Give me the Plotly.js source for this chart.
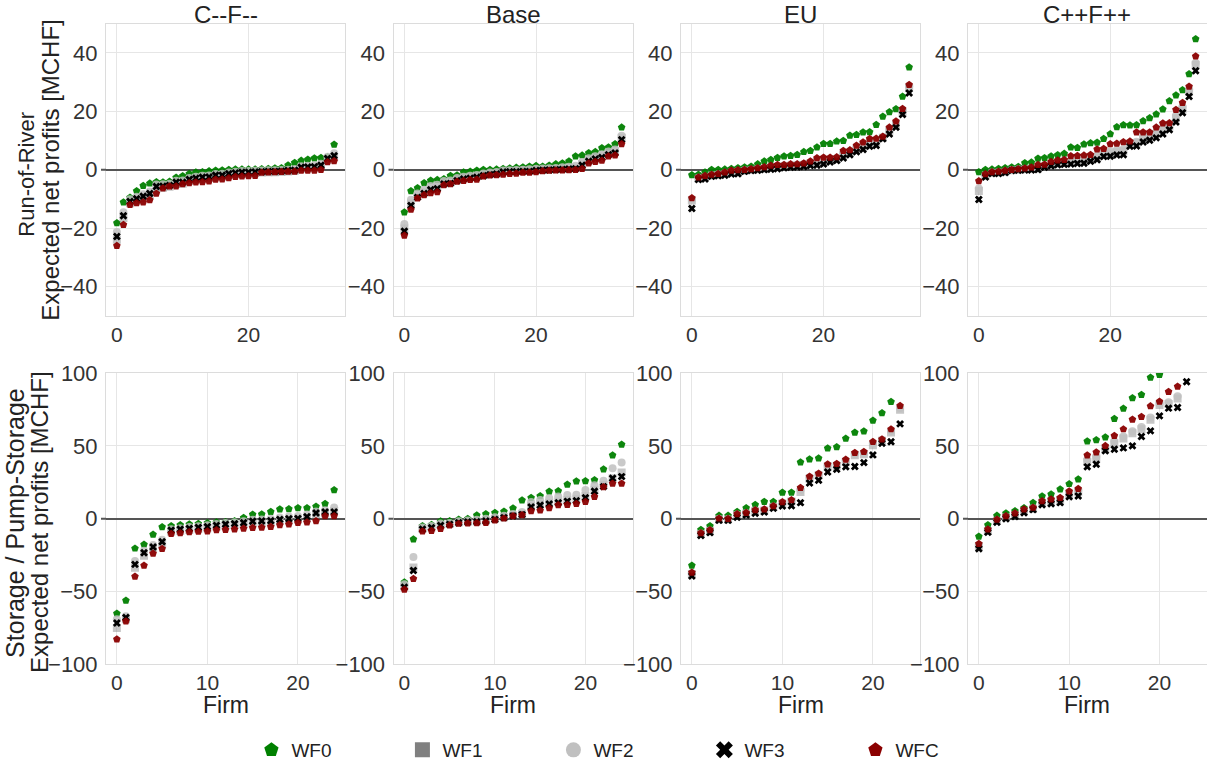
<!DOCTYPE html>
<html>
<head>
<meta charset="utf-8">
<script src="https://cdn.plot.ly/plotly-3.0.1.min.js"></script>
<style>
  html, body { margin: 0; padding: 0; background: #fff; }
  #chart { width: 1207px; height: 769px; }
</style>
</head>
<body>
<div id="chart"></div>
<script>
// Scenario names (columns) and weighting-function series
const scenarios = ["C--F--", "Base", "EU", "C++F++"];
const seriesNames = ["WF0", "WF1", "WF2", "WF3", "WFC"];
const firmIds = [0,1,2,3,4,5,6,7,8,9,10,11,12,13,14,15,16,17,18,19,20,21,22,23,24,25,26,27,28,29,30,31,32,33];

// ---- Run-of-River, expected net profits [MCHF] ----
const ror_lo_wf0 = [-18.3,-11.2,-9.5,-7.3,-5.5,-4.7,-4.2,-4.3,-4.1,-2.7,-2.2,-1.4,-0.9,-0.8,-0.5,-0.3,-0.2,0.0,0.1,0.1,0.1,0.1,0.2,0.3,0.5,0.6,1.5,2.4,3.1,3.5,3.9,4.1,4.3,8.6];
const ror_lo_wf1 = [-24.0,-16.6,-11.5,-10.6,-9.8,-8.9,-6.4,-6.2,-5.9,-4.9,-4.8,-3.9,-3.4,-3.1,-2.9,-2.4,-2.3,-1.8,-1.5,-1.3,-1.3,-1.1,-1.0,-0.9,-0.9,-0.8,-0.6,-0.5,0.4,0.5,0.6,1.0,3.3,4.3];
const ror_lo_wf2 = [-21.4,-14.6,-10.1,-9.3,-8.4,-7.5,-5.1,-5.0,-4.8,-3.8,-3.7,-2.9,-2.4,-2.1,-2.0,-1.5,-1.4,-1.0,-0.7,-0.5,-0.5,-0.4,-0.3,-0.2,-0.2,-0.1,0.0,0.2,1.2,1.3,1.5,2.0,4.4,5.6];
const ror_lo_wf3 = [-22.9,-15.8,-10.9,-10.0,-9.1,-8.2,-5.8,-5.7,-5.4,-4.3,-4.3,-3.4,-2.9,-2.6,-2.5,-1.9,-1.9,-1.4,-1.1,-0.9,-0.9,-0.8,-0.7,-0.6,-0.6,-0.5,-0.3,-0.2,0.8,0.9,1.0,1.5,3.8,4.8];
const ror_lo_wfc = [-26.1,-18.9,-12.0,-11.4,-11.2,-10.4,-8.2,-6.4,-5.7,-5.7,-4.9,-4.6,-4.3,-4.2,-4.0,-3.4,-3.3,-2.9,-2.4,-2.3,-2.2,-2.1,-1.0,-0.9,-0.8,-0.7,-0.6,-0.6,-0.3,-0.3,-0.3,0.0,2.6,3.0];

const ror_base_wf0 = [-14.6,-7.3,-6.3,-4.6,-3.7,-3.5,-3.2,-2.1,-1.9,-0.9,-0.6,-0.3,0.0,0.0,0.1,0.3,0.5,0.7,0.8,1.1,1.3,1.1,1.4,1.9,2.2,2.9,4.6,4.9,5.7,6.1,7.4,7.7,8.8,14.5];
const ror_base_wf1 = [-20.2,-11.6,-9.0,-7.7,-6.4,-6.0,-4.5,-4.3,-3.4,-2.9,-2.6,-2.3,-1.8,-1.4,-1.2,-0.6,-0.5,-0.4,-0.3,-0.3,-0.1,0.0,0.1,0.2,0.3,0.5,0.7,1.9,3.3,4.1,4.7,5.6,6.3,10.9];
const ror_base_wf2 = [-18.6,-10.3,-8.2,-6.9,-5.6,-5.2,-3.9,-3.7,-2.9,-2.4,-2.1,-1.8,-1.3,-1.0,-0.8,-0.3,-0.2,-0.1,0.0,0.1,0.3,0.4,0.5,0.6,0.8,1.0,1.3,2.6,3.9,4.6,5.3,6.2,6.9,11.6];
const ror_base_wf3 = [-21.1,-12.3,-9.5,-8.2,-6.9,-6.5,-4.9,-4.7,-3.8,-3.2,-2.9,-2.6,-2.1,-1.7,-1.5,-0.8,-0.7,-0.7,-0.6,-0.6,-0.3,-0.2,-0.1,0.0,0.1,0.2,0.3,1.5,2.9,3.7,4.2,5.1,5.7,10.3];
const ror_base_wfc = [-22.6,-13.7,-9.8,-8.7,-8.0,-7.7,-5.3,-4.9,-4.1,-3.8,-3.5,-3.4,-2.3,-1.9,-1.8,-1.7,-1.4,-1.3,-1.0,-1.0,-0.8,-0.5,-0.3,-0.2,-0.2,-0.1,0.0,0.3,2.2,2.7,3.1,4.6,4.9,8.8];

const ror_eu_wf0 = [-1.8,-1.7,-0.9,0.0,0.0,0.1,0.3,0.6,0.8,1.1,1.9,2.9,3.4,4.1,4.6,4.8,5.1,6.1,6.5,7.7,8.9,8.9,9.7,9.9,11.7,12.0,12.8,12.9,15.4,18.2,19.8,20.8,25.1,35.1];
const ror_eu_wf1 = [-10.6,-3.0,-2.6,-2.0,-1.8,-1.5,-1.0,-0.9,-0.4,-0.1,0.1,0.3,0.6,0.8,1.1,1.3,1.4,1.6,2.0,2.5,2.9,3.3,3.6,5.0,5.8,7.0,7.8,9.0,9.3,10.9,13.3,15.4,19.8,28.0];
const ror_eu_wf2 = [-10.2,-2.8,-2.4,-1.9,-1.6,-1.2,-0.7,-0.5,-0.2,0.0,0.3,0.6,1.0,1.2,1.4,1.6,1.7,1.9,2.4,3.2,3.5,3.7,3.9,5.8,6.3,7.6,8.6,9.8,10.0,11.1,13.9,16.0,20.4,28.6];
const ror_eu_wf3 = [-13.3,-3.4,-3.2,-2.3,-2.1,-1.9,-1.5,-1.4,-0.6,-0.3,-0.2,0.0,0.1,0.3,0.6,0.8,0.9,1.1,1.4,1.5,1.9,2.6,3.1,4.0,5.1,6.1,6.9,8.0,8.3,10.6,12.2,14.5,18.9,26.3];
const ror_eu_wfc = [-9.7,-2.6,-2.1,-1.7,-1.4,-0.9,-0.3,-0.1,0.0,0.2,0.6,0.9,1.4,1.7,1.7,1.9,1.9,2.2,2.9,4.0,4.2,4.2,4.3,6.5,6.7,8.3,9.4,10.6,10.7,11.4,14.5,16.6,20.9,29.1];

const ror_hi_wf0 = [-0.8,0.0,0.1,0.3,0.6,0.8,1.0,2.3,2.5,3.8,4.0,4.6,5.0,5.5,7.7,7.5,8.7,9.1,9.3,10.6,12.2,14.6,15.3,15.2,15.3,16.7,17.7,19.0,20.7,23.5,25.5,27.3,32.8,44.8];
const ror_hi_wf1 = [-7.3,-2.1,-1.1,-1.0,-0.7,-0.2,0.0,0.1,0.2,0.5,1.1,1.7,2.1,2.3,2.6,2.8,3.0,3.6,4.2,5.3,5.5,6.0,6.3,8.9,9.1,10.5,11.2,12.2,13.5,14.8,17.6,20.6,26.6,36.0];
const ror_hi_wf2 = [-6.5,-1.9,-1.0,-0.9,-0.6,-0.1,0.1,0.2,0.4,0.8,1.3,2.0,2.4,2.6,3.0,3.2,3.4,4.0,4.8,5.9,6.2,6.7,7.0,9.3,9.6,11.0,11.8,12.9,14.3,15.4,18.5,21.6,27.5,36.6];
const ror_hi_wf3 = [-10.2,-2.5,-1.3,-1.3,-1.0,-0.3,-0.2,-0.1,-0.1,0.0,0.8,1.3,1.7,1.8,1.9,2.1,2.2,2.9,3.4,4.5,4.6,5.0,5.1,8.0,8.1,9.5,10.1,10.9,12.2,13.7,16.3,19.5,25.1,33.9];
const ror_hi_wfc = [-3.9,-1.5,-0.8,-0.6,-0.3,0.0,0.2,0.5,0.8,1.7,1.8,2.7,3.2,3.4,4.7,4.8,4.9,5.1,7.0,7.2,8.8,9.0,9.5,9.7,12.8,12.8,12.8,14.5,15.9,16.0,20.5,22.9,28.5,38.9];

// ---- Storage / Pump-Storage, expected net profits [MCHF] (null = above 100) ----
const sto_lo_wf0 = [-65.1,-56.2,-20.4,-17.7,-10.8,-5.7,-5.0,-4.4,-3.9,-3.4,-3.0,-2.5,-2.3,-1.6,0.7,2.8,3.0,4.8,6.4,6.7,7.3,7.3,8.3,10.3,19.7];
const sto_lo_wf1 = [-75.0,-69.0,-33.7,-25.5,-20.5,-17.5,-9.0,-8.4,-7.8,-7.0,-6.5,-5.6,-4.9,-4.4,-3.9,-2.9,-2.6,-2.3,-1.5,-1.0,-0.6,0.5,2.8,3.5,5.3];
const sto_lo_wf2 = [-69.0,-67.0,-29.0,-22.0,-18.0,-14.5,-7.2,-6.5,-5.8,-5.2,-4.6,-3.7,-3.0,-2.5,-1.8,-0.8,-0.5,0.0,0.8,1.5,1.9,2.9,4.9,5.8,7.6];
const sto_lo_wf3 = [-71.6,-67.9,-31.4,-23.4,-19.5,-15.8,-8.0,-7.3,-6.7,-6.0,-5.5,-4.6,-3.9,-3.4,-2.8,-1.8,-1.6,-1.4,-0.5,0.0,0.2,1.4,3.9,4.6,4.6];
const sto_lo_wfc = [-82.8,-70.4,-39.7,-32.1,-23.9,-20.6,-10.3,-9.9,-9.2,-8.9,-8.7,-7.8,-7.6,-7.3,-6.7,-6.2,-6.0,-5.5,-4.4,-3.9,-2.8,-2.5,-1.6,1.8,1.8];

const sto_base_wf0 = [-43.6,-14.2,-5.0,-4.1,-1.8,-1.6,-0.5,0.0,2.3,3.2,4.1,5.0,7.1,12.6,14.4,15.6,18.6,19.0,23.4,25.7,25.9,26.6,33.9,43.6,50.9];
const sto_base_wf1 = [-46.5,-33.5,-7.0,-6.0,-4.3,-3.6,-2.6,-2.1,-1.9,-1.3,-0.2,0.9,2.0,3.0,8.6,9.9,10.8,11.8,12.8,13.4,15.5,19.7,23.2,27.8,31.7];
const sto_base_wf2 = [-45.0,-26.4,-6.0,-5.0,-3.3,-2.9,-1.7,-1.2,-0.7,0.0,1.0,2.0,3.2,4.5,11.5,12.8,14.0,15.3,16.3,16.5,19.7,23.0,26.0,34.6,38.5];
const sto_base_wf3 = [-47.0,-35.6,-7.3,-6.2,-4.6,-3.9,-2.8,-2.3,-2.1,-1.6,-0.5,0.7,1.8,2.8,8.0,9.2,10.1,11.0,11.9,12.4,14.4,18.8,22.0,27.8,28.9];
const sto_base_wfc = [-48.6,-41.3,-8.7,-8.3,-6.9,-4.6,-3.4,-3.2,-3.0,-2.8,-1.1,0.2,1.8,2.5,5.3,5.7,7.3,9.4,9.6,10.3,11.7,15.1,21.8,24.1,24.1];

const sto_eu_wf0 = [-32.1,-7.6,-5.0,2.1,2.1,4.8,7.3,9.6,11.7,11.7,17.9,17.9,38.8,40.8,41.5,48.4,49.3,55.0,59.2,60.1,67.4,72.5,80.3,null];
const sto_eu_wf1 = [-38.0,-10.5,-8.5,-0.5,-0.5,2.5,3.5,5.2,5.6,8.0,10.5,11.8,18.3,27.5,29.8,35.8,36.2,39.0,43.5,44.3,50.5,53.5,59.2,74.8];
const sto_eu_wf2 = [-37.5,-10.2,-8.2,0.0,-0.2,2.9,3.8,5.6,6.0,8.4,11.0,12.3,19.8,28.2,30.4,36.6,37.0,39.8,44.4,45.0,51.6,54.0,60.3,76.0];
const sto_eu_wf3 = [-39.4,-11.5,-9.6,-1.1,-1.1,0.9,2.5,3.7,4.6,7.1,8.7,8.9,11.0,24.5,26.4,32.1,33.9,35.6,35.8,38.5,43.8,51.8,52.8,65.1];
const sto_eu_wfc = [-36.9,-9.9,-7.8,0.2,0.0,3.2,4.1,6.0,6.4,8.7,11.5,12.8,21.3,28.9,31.0,37.4,37.8,40.6,45.2,45.9,52.8,54.6,61.5,77.5];

const sto_hi_wf0 = [-12.2,-4.4,2.1,3.7,5.3,7.3,11.0,15.4,16.7,20.2,23.9,27.1,53.2,54.1,56.0,68.6,75.7,82.8,85.1,97.0,98.9,null,null,null];
const sto_hi_wf1 = [-19.0,-8.4,-1.5,0.9,2.6,5.2,6.9,11.0,11.8,12.7,17.0,18.2,39.0,41.3,47.7,51.8,55.0,58.7,61.5,67.9,78.0,78.7,82.6,null];
const sto_hi_wf2 = [-18.5,-8.0,-1.2,1.2,2.9,5.5,7.2,11.5,12.3,13.3,17.8,19.2,40.5,42.6,48.8,53.0,56.5,60.0,63.0,69.5,79.0,80.0,84.0,null];
const sto_hi_wf3 = [-20.6,-9.4,-2.5,0.0,1.4,4.1,6.2,9.6,10.3,11.0,15.1,15.6,35.6,37.4,46.6,47.7,48.6,50.0,56.4,60.3,70.6,75.9,76.4,94.0];
const sto_hi_wfc = [-17.2,-7.3,-0.5,1.8,3.7,6.4,7.6,12.2,13.3,14.4,18.8,20.6,43.6,45.6,50.0,56.9,61.5,68.1,70.0,77.3,80.5,87.2,90.8,null];

// Axis ticks
const rorYTicks = [-40, -20, 0, 20, 40];
const stoYTicks = [-100, -50, 0, 50, 100];
const rorXTicks = [0, 20];
const stoXTicks = [0, 10, 20];

// Panel order: top row Run-of-River, bottom row Storage
const panels = [
  [ror_lo_wf0, ror_lo_wf1, ror_lo_wf2, ror_lo_wf3, ror_lo_wfc],
  [ror_base_wf0, ror_base_wf1, ror_base_wf2, ror_base_wf3, ror_base_wfc],
  [ror_eu_wf0, ror_eu_wf1, ror_eu_wf2, ror_eu_wf3, ror_eu_wfc],
  [ror_hi_wf0, ror_hi_wf1, ror_hi_wf2, ror_hi_wf3, ror_hi_wfc],
  [sto_lo_wf0, sto_lo_wf1, sto_lo_wf2, sto_lo_wf3, sto_lo_wfc],
  [sto_base_wf0, sto_base_wf1, sto_base_wf2, sto_base_wf3, sto_base_wfc],
  [sto_eu_wf0, sto_eu_wf1, sto_eu_wf2, sto_eu_wf3, sto_eu_wfc],
  [sto_hi_wf0, sto_hi_wf1, sto_hi_wf2, sto_hi_wf3, sto_hi_wfc]
];

// Marker styles per series (in-plot and legend)
const styles = [
  {symbol: "pentagon", color: "#008000", size: 8, opacity: 0.95, legendColor: "#008000"},
  {symbol: "square",   color: "#808080", size: 8, opacity: 0.45, legendColor: "#808080"},
  {symbol: "circle",   color: "#c0c0c0", size: 8, opacity: 0.85, legendColor: "#c0c0c0"},
  {symbol: "x",        color: "#000000", size: 7, opacity: 1.0,  legendColor: "#000000"},
  {symbol: "pentagon", color: "#8b0000", size: 8, opacity: 0.95, legendColor: "#8b0000"}
];

const W = 1207, H = 769;
const colPx = [[106, 345], [393.5, 632.5], [681, 920], [968, 1206.5]];
const rowPx = [[24, 318], [376, 669.5]];
const fontFam = "Liberation Sans, Arial, sans-serif";

const traces = [];
panels.forEach((ser, p) => {
  const ax = p + 1;
  const xa = ax === 1 ? "x" : "x" + ax;
  const ya = ax === 1 ? "y" : "y" + ax;
  ser.forEach((vals, s) => {
    const st = styles[s];
    traces.push({
      type: "scatter", mode: "markers",
      x: firmIds.slice(0, vals.length), y: vals,
      xaxis: xa, yaxis: ya,
      name: seriesNames[s], showlegend: false, hoverinfo: "x+y+name",
      marker: {symbol: st.symbol, color: st.color, size: st.size, opacity: st.opacity, line: {width: 0}}
    });
  });
});
// Legend entries
seriesNames.forEach((n, s) => {
  const st = styles[s];
  traces.push({
    type: "scatter", mode: "markers", x: [null], y: [null], name: n, showlegend: true,
    marker: {symbol: st.symbol, color: st.legendColor, size: 15, line: {width: 0}}
  });
});

const layout = {
  width: W, height: H,
  margin: {l: 0, r: 0, t: 0, b: 0},
  paper_bgcolor: "#ffffff", plot_bgcolor: "#ffffff",
  font: {family: fontFam, size: 22, color: "#333333"},
  showlegend: true,
  legend: {
    orientation: "h", x: 0.2083, xanchor: "left", y: 1 - 756 / H, yanchor: "middle",
    font: {family: fontFam, size: 19, color: "#222222"},
    entrywidth: 106, entrywidthmode: "pixels", itemsizing: "trace"
  },
  annotations: [], shapes: []
};

for (let p = 0; p < 8; p++) {
  const ax = p + 1;
  const row = p < 4 ? 0 : 1;
  const col = p % 4;
  const xKey = ax === 1 ? "xaxis" : "xaxis" + ax;
  const yKey = ax === 1 ? "yaxis" : "yaxis" + ax;
  const xa = ax === 1 ? "x" : "x" + ax;
  const ya = ax === 1 ? "y" : "y" + ax;
  const xDom = [colPx[col][0] / W, colPx[col][1] / W];
  const yDom = [1 - rowPx[row][1] / H, 1 - rowPx[row][0] / H];
  layout[xKey] = {
    domain: xDom, anchor: ya,
    range: row === 0 ? [-1.65, 34.65] : [-1.2, 25.2],
    tickvals: row === 0 ? rorXTicks : stoXTicks,
    showgrid: true, gridcolor: "#e6e6e6", gridwidth: 1,
    zeroline: false, showline: true, mirror: true, linecolor: "#dcdcdc", linewidth: 1,
    ticks: "", ticklen: 0, ticklabelstandoff: 0,
    tickfont: {family: fontFam, size: 21, color: "#333333"}, fixedrange: true
  };
  layout[yKey] = {
    domain: yDom, anchor: xa,
    range: row === 0 ? [-50, 50] : [-100, 100],
    tickvals: row === 0 ? rorYTicks : stoYTicks,
    showgrid: true, gridcolor: "#e6e6e6", gridwidth: 1,
    zeroline: true, zerolinecolor: "#555555", zerolinewidth: 2,
    showline: true, mirror: true, linecolor: "#dcdcdc", linewidth: 1,
    ticks: "", ticklen: 0, ticklabelstandoff: 3,
    tickfont: {family: fontFam, size: 22, color: "#333333"}, fixedrange: true
  };
  // short stub of the zero line left of the frame
  layout.shapes.push({
    type: "line", xref: "paper", yref: ya,
    x0: (colPx[col][0] - 5) / W, x1: colPx[col][0] / W, y0: 0, y1: 0,
    line: {color: "#555555", width: 2}, layer: "above"
  });
  if (row === 0) {
    layout.annotations.push({
      text: scenarios[col], xref: "paper", yref: "paper",
      x: (colPx[col][0] + colPx[col][1]) / 2 / W, y: 1 - 15 / H,
      xanchor: "center", yanchor: "middle", showarrow: false,
      font: {family: fontFam, size: 24, color: "#222222"}
    });
  } else {
    layout.annotations.push({
      text: "Firm", xref: "paper", yref: "paper",
      x: (colPx[col][0] + colPx[col][1]) / 2 / W, y: 1 - 711 / H,
      xanchor: "center", yanchor: "middle", showarrow: false,
      font: {family: fontFam, size: 23, color: "#222222"}
    });
  }
}

// Row labels (y-axis titles), one rotated line each
const rowLabels = [
  {text: "Run-of-River", x: 27, y: 176, size: 22},
  {text: "Expected net profits [MCHF]", x: 51, y: 172, size: 24},
  {text: "Storage / Pump-Storage", x: 15, y: 527, size: 25},
  {text: "Expected net profits [MCHF]", x: 40, y: 527, size: 24}
];
rowLabels.forEach(r => {
  layout.annotations.push({
    text: r.text, xref: "paper", yref: "paper",
    x: r.x / W, y: 1 - r.y / H, xanchor: "center", yanchor: "middle",
    textangle: -90, showarrow: false,
    font: {family: fontFam, size: r.size, color: "#222222"}
  });
});

Plotly.newPlot("chart", traces, layout, {staticPlot: true, displayModeBar: false});
</script>
</body>
</html>
